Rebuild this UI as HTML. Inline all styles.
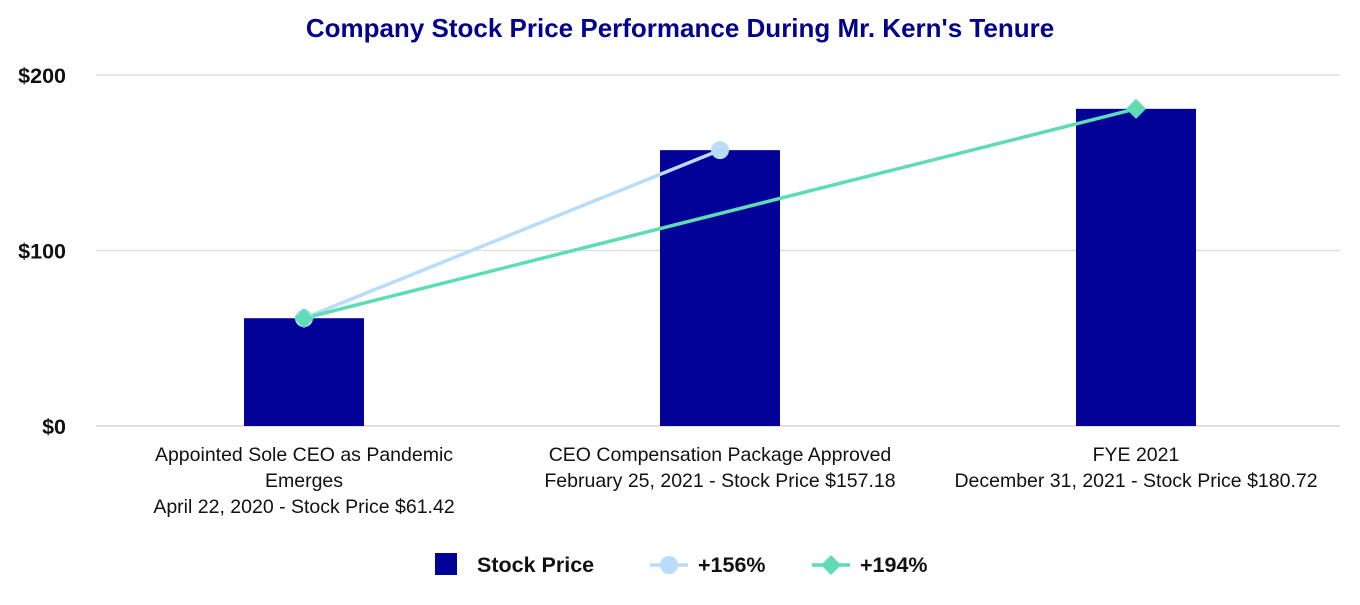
<!DOCTYPE html>
<html><head><meta charset="utf-8"><style>
body{margin:0;background:#fff;font-family:"Liberation Sans",Arial,sans-serif}
svg text{font-family:"Liberation Sans",Arial,sans-serif}
</style></head><body>
<svg id="c" width="1360" height="600"></svg>
<script>
const categories=[["Appointed Sole CEO as Pandemic","Emerges","April 22, 2020 - Stock Price $61.42"],["CEO Compensation Package Approved","February 25, 2021 - Stock Price $157.18"],["FYE 2021","December 31, 2021 - Stock Price $180.72"]];
const prices=[61.42,157.18,180.72];
const line156=[61.42,157.18];
const line194=[61.42,null,180.72];
const yTicks=[0,100,200];
const yTickLabels=["$0","$100","$200"];
const NS="http://www.w3.org/2000/svg";
const svg=document.getElementById('c');
function el(t,a,p){const e=document.createElementNS(NS,t);for(const k in a)e.setAttribute(k,a[k]);(p||svg).appendChild(e);return e;}
const y=v=>426-v*(351/200);
const x=i=>304+i*416;
const t=el('text',{x:680,y:37,'text-anchor':'middle','font-size':26,'font-weight':'bold',fill:'#02028f'});t.textContent="Company Stock Price Performance During Mr. Kern's Tenure";


yTicks.forEach((v,i)=>{
 const g=el('line',{x1:96,x2:1340,y1:y(v),y2:y(v),stroke:'#e0e0e0','stroke-width':v===0?2:1.5});
 
 
 const l=el('text',{x:66,y:y(v)+8,'text-anchor':'end','font-size':21.5,'font-weight':'bold',fill:'#111'});l.textContent=yTickLabels[i];
 
 
});
prices.forEach((v,i)=>{
 const b=el('rect',{x:x(i)-60,y:y(v),width:120,height:y(0)-y(v),fill:'#020299'});
 
 
 categories[i].forEach((s,j)=>{
  const tt=el('text',{x:x(i),y:461+j*26,'text-anchor':'middle','font-size':19.5,fill:'#111'});tt.textContent=s;
  
  
 });
});
function pts(arr){return arr.map((v,i)=>v==null?null:[x(i),y(v)]).filter(p=>p);}
const p156=pts(line156),p194=pts(line194);
const l1=el('polyline',{points:p156.map(p=>p.join(',')).join(' '),fill:'none',stroke:'#b8dcfa','stroke-width':3.5});


const l2=el('polyline',{points:p194.map(p=>p.join(',')).join(' '),fill:'none',stroke:'#5ddcb6','stroke-width':3.5});


p156.forEach(p=>{const c=el('circle',{cx:p[0],cy:p[1],r:9,fill:'#b8dcfa'});
 
 });
p194.forEach(p=>{const d=el('path',{d:`M${p[0]},${p[1]-10}L${p[0]+10},${p[1]}L${p[0]},${p[1]+10}L${p[0]-10},${p[1]}Z`,fill:'#5ddcb6'});
 
 });
const lg=el('g',{});


const s=el('rect',{x:435,y:553,width:22,height:22,fill:'#020299'},lg);


const lt=el('text',{x:477,y:572,'font-size':21.5,'font-weight':'bold',fill:'#111'},lg);lt.textContent='Stock Price';


el('line',{x1:650,x2:688,y1:565,y2:565,stroke:'#b8dcfa','stroke-width':3.5},lg);
el('circle',{cx:669,cy:565,r:9,fill:'#b8dcfa'},lg);
const t2=el('text',{x:698,y:572,'font-size':21.5,'font-weight':'bold',fill:'#111'},lg);t2.textContent='+156%';


el('line',{x1:812,x2:850,y1:565,y2:565,stroke:'#5ddcb6','stroke-width':3.5},lg);
el('path',{d:'M831,555L841,565L831,575L821,565Z',fill:'#5ddcb6'},lg);
const t3=el('text',{x:860,y:572,'font-size':21.5,'font-weight':'bold',fill:'#111'},lg);t3.textContent='+194%';


</script>
</body></html>
